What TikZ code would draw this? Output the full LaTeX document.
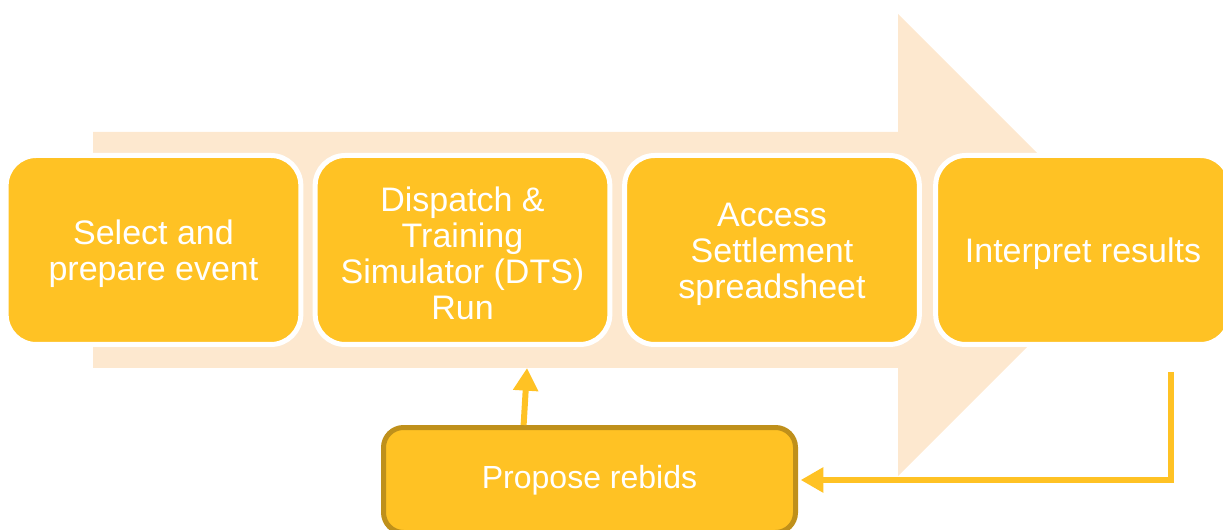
\documentclass[tikz,border=0pt]{standalone}
\usepackage{fontspec}
\setmainfont{Liberation Sans}
\usetikzlibrary{calc,arrows.meta}
\definecolor{gold}{HTML}{FFC224}
\definecolor{peach}{HTML}{FDE8CF}
\definecolor{darkgold}{HTML}{BF901B}
\begin{document}
\begin{tikzpicture}[x=0.75pt,y=-0.75pt,
  stage/.style={draw=white,line width=3.75pt,fill=gold,rounded corners=22.5pt,
    minimum width=221pt,minimum height=141.75pt,align=center,text=white,
    font=\fontsize{25.5}{27}\selectfont},
  rebidbox/.style={draw=darkgold,line width=3.75pt,fill=gold,rounded corners=15pt,
    minimum width=309pt,minimum height=78.75pt,text=white,
    font=\fontsize{24}{27}\selectfont},
  flow/.style={draw=gold,line width=4.5pt,-{Triangle[length=17pt,width=18pt]}}]
\useasboundingbox (0,0) rectangle (1223,530);
\fill[peach] (93,132) -- (898,132) -- (898,14) -- (1129,245) -- (898,476) -- (898,368) -- (93,368) -- cycle;

\node[stage] (select) at (153.5,250) {\\[-3pt]Select and\\prepare event};
\node[stage] (dts) at (462.5,250) {\\[-3pt]Dispatch \&\\Training\\Simulator (DTS)\\Run};
\node[stage] (access) at (772,250) {\\[-3pt]Access\\Settlement\\spreadsheet};
\node[stage] (interpret) at (1083,250) {\\[-3pt]Interpret results};

\node[rebidbox] (rebid) at (589.5,480) {\raisebox{3pt}{Propose rebids}};

\coordinate (up) at (527,368);
\coordinate (back) at (1171,372);
\draw[flow] ($(rebid.north west)!0.342!(rebid.north east)$) -- (up);
\draw[flow,shorten >=2pt] (back) |- (rebid.east);
\end{tikzpicture}
\end{document}
